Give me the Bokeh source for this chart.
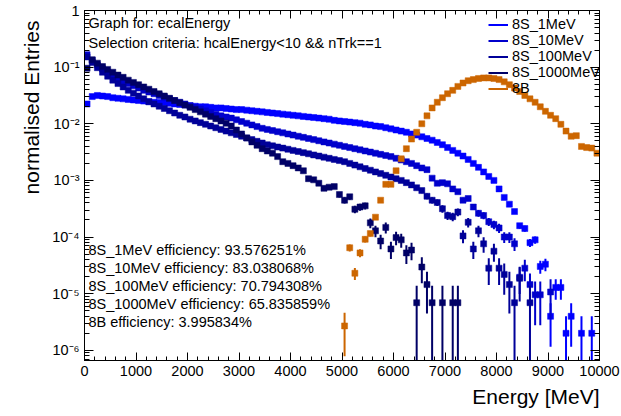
import math
from bokeh.plotting import figure
from bokeh.models import (Range1d, FixedTicker, SingleIntervalTicker, LogAxis, LinearAxis,
                          Label, Legend, LegendItem, ColumnDataSource, CustomJSTickFormatter,
                          CustomLabelingPolicy, Title)
from bokeh.embed import file_html
from bokeh.resources import INLINE

N = None

# bin centres of the 100 MeV wide histogram bins (0 - 10000 MeV)
energy_mev = [50 + 100 * i for i in range(100)]

# log10(normalised entries), one value per bin (None = empty bin)
log10_8S_1MeV = [
    -1.65, -1.52, -1.50, -1.51, -1.52, -1.54, -1.55, -1.56, -1.57, -1.58,
    -1.59, -1.60, -1.61, -1.62, -1.625, -1.63, -1.64, -1.65, -1.66, -1.67,
    -1.68, -1.69, -1.70, -1.70, -1.71, -1.72, -1.72, -1.73, -1.74, -1.75,
    -1.75, -1.76, -1.77, -1.78, -1.79, -1.80, -1.81, -1.82, -1.83, -1.84,
    -1.85, -1.86, -1.87, -1.88, -1.89, -1.90, -1.91, -1.92, -1.94, -1.95,
    -1.96, -1.97, -1.98, -1.99, -2.01, -2.02, -2.04, -2.05, -2.07, -2.09,
    -2.11, -2.13, -2.15, -2.18, -2.20, -2.23, -2.26, -2.29, -2.33, -2.37,
    -2.42, -2.47, -2.52, -2.57, -2.63, -2.70, -2.77, -2.85, -2.93, -3.00,
    -3.15, -3.30, -3.42, -3.55, -3.80, -3.85, -4.10, -4.05, -4.52, -4.48,
    -5.40, -4.89, -4.89, -5.70, -5.40, N, -5.70, N, -5.70, N]

log10_8S_10MeV = [
    -0.78, -0.88, -0.96, -1.03, -1.09, -1.15, -1.20, -1.25, -1.29, -1.33,
    -1.37, -1.41, -1.44, -1.47, -1.50, -1.53, -1.56, -1.59, -1.62, -1.65,
    -1.68, -1.71, -1.74, -1.77, -1.80, -1.83, -1.86, -1.88, -1.90, -1.93,
    -1.96, -1.99, -2.02, -2.05, -2.08, -2.10, -2.12, -2.14, -2.16, -2.18,
    -2.20, -2.22, -2.24, -2.26, -2.28, -2.30, -2.32, -2.34, -2.36, -2.38,
    -2.40, -2.42, -2.44, -2.46, -2.48, -2.50, -2.52, -2.54, -2.56, -2.58,
    -2.61, -2.64, -2.67, -2.70, -2.74, -2.78, -2.81, -2.96, -3.05, -3.04,
    -3.06, -3.15, -3.20, -3.35, -3.32, -3.47, -3.58, -3.62, -3.73, -3.78,
    -3.84, -4.00, -4.00, -4.12, -4.71, -4.55, -4.84, -5.02, -5.02, N,
    -4.97, N, N, N, N, N, N, N, N, N]

log10_8S_100MeV = [
    -0.82, -0.92, -1.01, -1.09, -1.16, -1.23, -1.29, -1.35, -1.41, -1.46,
    -1.51, -1.56, -1.61, -1.65, -1.69, -1.73, -1.77, -1.81, -1.85, -1.88,
    -1.92, -1.95, -1.98, -2.01, -2.04, -2.07, -2.10, -2.13, -2.16, -2.19,
    -2.22, -2.25, -2.28, -2.31, -2.34, -2.37, -2.39, -2.41, -2.43, -2.45,
    -2.47, -2.49, -2.51, -2.53, -2.55, -2.57, -2.59, -2.61, -2.63, -2.65,
    -2.67, -2.70, -2.73, -2.76, -2.79, -2.82, -2.85, -2.88, -2.91, -2.94,
    -2.97, -3.00, -3.04, -3.08, -3.13, -3.18, -3.28, -3.35, -3.39, -3.50,
    -3.62, -3.64, -3.56, -3.98, -3.74, -4.21, -3.89, -4.12, -4.55, -4.25,
    -4.55, -4.66, -4.84, -5.16, -4.73, N, -5.16, N, N, N,
    N, N, N, N, N, N, N, N, N, N]

log10_8S_1000MeV = [
    -1.02, -0.87, -0.93, -0.99, -1.04, -1.09, -1.14, -1.18, -1.23, -1.27,
    -1.31, -1.35, -1.39, -1.43, -1.47, -1.51, -1.55, -1.59, -1.63, -1.67,
    -1.71, -1.75, -1.79, -1.83, -1.87, -1.91, -1.95, -1.99, -2.04, -2.11,
    -2.18, -2.25, -2.32, -2.38, -2.44, -2.48, -2.52, -2.58, -2.67, -2.70,
    -2.74, -2.78, -2.83, -2.97, -2.99, -3.05, -3.14, -3.12, -3.11, -3.25,
    -3.35, -3.29, -3.51, -3.47, -3.45, -3.75, -3.89, -4.07, -3.83, -4.21,
    -4.01, -4.05, -4.28, -4.23, -5.16, -4.53, -4.84, -5.16, N, -5.16,
    N, -5.16, -5.16, N, N, N, N, N, N, N,
    N, N, N, N, N, N, N, N, N, N,
    N, N, N, N, N, N, N, N, N, N]

log10_8B = [N] * 50 + [
    -5.57, -4.19, -4.64, -4.28, -4.04, -3.94, -3.65, -3.35, -3.07, -3.07,
    -2.83, -2.62, -2.44, -2.27, -2.15, -2.00, -1.86, -1.72, -1.62, -1.54,
    -1.47, -1.41, -1.34, -1.28, -1.24, -1.22, -1.20, -1.19, -1.19, -1.20,
    -1.22, -1.26, -1.31, -1.37, -1.43, -1.50, -1.56, -1.62, -1.70, -1.78,
    -1.85, -1.91, -2.01, -2.13, -2.22, -2.21, -2.40, -2.42, -2.43, -2.52]

# normalised weight of a single entry (sets the size of the statistical error bars)
entry_weight = {"8S_1MeV": 2.0e-6, "8S_10MeV": 4.8e-6, "8S_100MeV": 6.9e-6,
                "8S_1000MeV": 6.9e-6, "8B": 1.35e-6}

series_names = ["8S_1MeV", "8S_10MeV", "8S_100MeV", "8S_1000MeV", "8B"]
series_values = [log10_8S_1MeV, log10_8S_10MeV, log10_8S_100MeV, log10_8S_1000MeV, log10_8B]
series_colors = ["#0000ff", "#0000cc", "#000099", "#000066", "#cc6600"]

efficiency_texts = ["8S_1MeV efficiency: 93.576251%",
                    "8S_10MeV efficiency: 83.038068%",
                    "8S_100MeV efficiency: 70.794308%",
                    "8S_1000MeV efficiency: 65.835859%",
                    "8B efficiency: 3.995834%"]
header_texts = ["Graph for: ecalEnergy",
                "Selection criteria: hcalEnergy<10 && nTrk==1"]
x_title = "Energy [MeV]"
y_title = "normalised Entries"

FONT = "Liberation Sans"

p = figure(width=621, height=416, x_range=Range1d(0, 10000), y_range=Range1d(6.6e-7, 1.0),
           y_axis_type="log", output_backend="svg", toolbar_location=None,
           min_border_left=84, min_border_right=22, min_border_top=10, min_border_bottom=56)
p.grid.visible = False
p.outline_line_color = "black"
p.outline_line_width = 1
p.background_fill_color = "white"
p.border_fill_color = "white"

y_major = [10.0 ** e for e in range(-6, 1)]
y_minor = [m * 10.0 ** e for e in range(-7, 0) for m in range(2, 10)]
y_formatter = CustomJSTickFormatter(code="""
    const sup = {"-": "\u207b", "0": "\u2070", "1": "\u00b9", "2": "\u00b2", "3": "\u00b3",
                 "4": "\u2074", "5": "\u2075", "6": "\u2076", "7": "\u2077", "8": "\u2078", "9": "\u2079"};
    const e = Math.round(Math.log10(tick));
    if (e == 0) { return "1"; }
    return "10" + String(e).split("").map(c => sup[c]).join("");
""")
no_labels = CustomLabelingPolicy(code="""
    const all = [...indices];
    for (const i of all) { indices.unset(i); }
    return indices;
""")

def style_axis(ax, major_in, minor_in, show_labels):
    ax.axis_line_color = "black"
    ax.major_tick_line_color = "black"
    ax.minor_tick_line_color = "black"
    ax.major_tick_in = major_in
    ax.major_tick_out = 0
    ax.minor_tick_in = minor_in
    ax.minor_tick_out = 0
    ax.major_label_text_font = FONT
    ax.major_label_text_color = "black"
    if show_labels:
        ax.major_label_text_font_size = "14.5px"
        ax.major_label_standoff = 5
    else:
        ax.major_label_text_font_size = "1px"
        ax.major_label_standoff = 0
        ax.major_label_policy = no_labels

xa = p.xaxis[0]
xa.ticker = SingleIntervalTicker(interval=1000, num_minor_ticks=5)
style_axis(xa, 8, 4, True)

ya = p.yaxis[0]
ya.ticker = FixedTicker(ticks=y_major, minor_ticks=y_minor)
ya.formatter = y_formatter
style_axis(ya, 9, 5, True)

top_axis = LinearAxis(ticker=SingleIntervalTicker(interval=1000, num_minor_ticks=5))
style_axis(top_axis, 8, 4, False)
p.add_layout(top_axis, "above")
right_axis = LogAxis(ticker=FixedTicker(ticks=y_major, minor_ticks=y_minor))
style_axis(right_axis, 9, 5, False)
p.add_layout(right_axis, "right")

p.add_layout(Title(text=x_title, align="right", text_font=FONT, text_font_size="21px",
                   text_font_style="normal", text_color="black", standoff=9), "below")
p.add_layout(Title(text=y_title, align="right", text_font=FONT, text_font_size="21px",
                   text_font_style="normal", text_color="black", standoff=14, offset=10), "left")

legend_items = []
for name, logs, color in zip(series_names, series_values, series_colors):
    w = entry_weight[name]
    xs, ys, lo, hi = [], [], [], []
    for e, lv in zip(energy_mev, logs):
        if lv is None:
            continue
        v = 10.0 ** lv
        err = math.sqrt(v * w)
        xs.append(e)
        ys.append(v)
        hi.append(v + err)
        lo.append(max(v - err, 1e-9))
    src = ColumnDataSource(dict(x=xs, y=ys, lo=lo, hi=hi))
    bars = p.segment(x0="x", y0="lo", x1="x", y1="hi", source=src, line_color=color, line_width=2)
    p.scatter(x="x", y="y", source=src, marker="square", size=6, fill_color=color,
              line_color=color, line_width=0.5)
    legend_items.append(LegendItem(label=name, renderers=[bars]))

legend = Legend(items=legend_items, location=(404, 264), orientation="vertical",
                background_fill_alpha=0, border_line_alpha=0, padding=0, margin=0,
                spacing=0, glyph_width=20, glyph_height=15, label_height=15,
                label_standoff=4, label_text_font=FONT, label_text_font_size="14.5px",
                label_text_color="black")
p.add_layout(legend, "center")

for i, t in enumerate(header_texts):
    p.add_layout(Label(x=4, y=338 - 20 * i, x_units="screen", y_units="screen", text=t,
                       text_font=FONT, text_font_size="14.5px", text_color="black",
                       text_baseline="middle", text_align="left"))
for i, t in enumerate(efficiency_texts):
    p.add_layout(Label(x=4, y=111 - 18 * i, x_units="screen", y_units="screen", text=t,
                       text_font=FONT, text_font_size="14.5px", text_color="black",
                       text_baseline="middle", text_align="left"))

open("out.html", "w").write(file_html(p, INLINE))
